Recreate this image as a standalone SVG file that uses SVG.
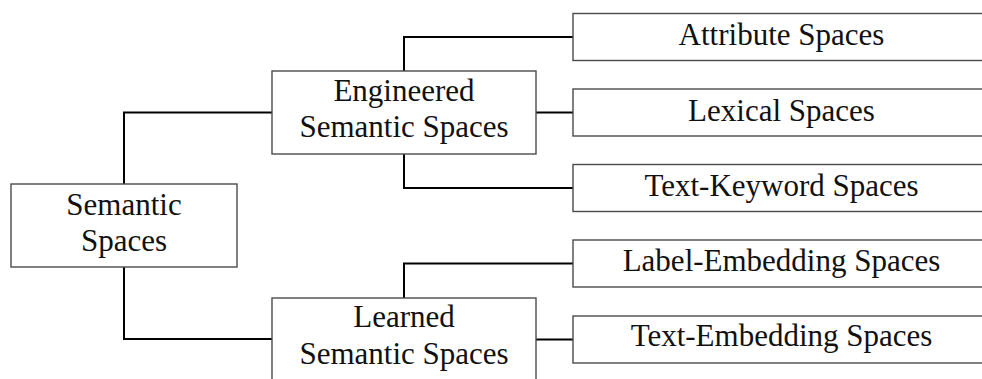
<svg xmlns="http://www.w3.org/2000/svg" width="982" height="379" viewBox="0 0 982 379">
  <style>
    .box { fill: #ffffff; stroke: #4a4a4a; stroke-width: 1.4; }
    .link { fill: none; stroke: #000000; stroke-width: 2; }
    .label { font-family: "Liberation Serif", "Times New Roman", serif; font-size: 31px; fill: #111111; text-anchor: middle; }
  </style>
  <rect x="0" y="0" width="982" height="379" fill="#ffffff"/>

  <!-- connectors -->
  <g id="connectors">
    <path class="link" d="M124 184 V112.5 H272"/>
    <path class="link" d="M124 267 V339 H272"/>
    <path class="link" d="M404 71 V37 H573"/>
    <path class="link" d="M536 112.5 H573"/>
    <path class="link" d="M404 154 V188 H573"/>
    <path class="link" d="M404 298 V263.5 H573"/>
    <path class="link" d="M536 339.5 H573"/>
  </g>

  <!-- root -->
  <g id="semantic-spaces">
    <rect class="box" x="11" y="184" width="226" height="83"/>
    <text class="label" x="124" y="215">Semantic</text>
    <text class="label" x="124" y="251">Spaces</text>
  </g>

  <!-- second level -->
  <g id="engineered">
    <rect class="box" x="272" y="71" width="264" height="83"/>
    <text class="label" x="404" y="101">Engineered</text>
    <text class="label" x="404" y="137">Semantic Spaces</text>
  </g>
  <g id="learned">
    <rect class="box" x="272" y="298" width="264" height="83"/>
    <text class="label" x="404" y="327">Learned</text>
    <text class="label" x="404" y="364">Semantic Spaces</text>
  </g>

  <!-- leaves -->
  <g id="attribute">
    <rect class="box" x="573" y="13.5" width="418" height="47"/>
    <text class="label" x="781.5" y="45">Attribute Spaces</text>
  </g>
  <g id="lexical">
    <rect class="box" x="573" y="89" width="418" height="47"/>
    <text class="label" x="781.5" y="120.5">Lexical Spaces</text>
  </g>
  <g id="text-keyword">
    <rect class="box" x="573" y="164.5" width="418" height="47"/>
    <text class="label" x="781.5" y="195.5">Text-Keyword Spaces</text>
  </g>
  <g id="label-embedding">
    <rect class="box" x="573" y="240" width="418" height="47"/>
    <text class="label" x="781.5" y="270.5">Label-Embedding Spaces</text>
  </g>
  <g id="text-embedding">
    <rect class="box" x="573" y="316" width="418" height="47"/>
    <text class="label" x="781.5" y="346">Text-Embedding Spaces</text>
  </g>
</svg>
